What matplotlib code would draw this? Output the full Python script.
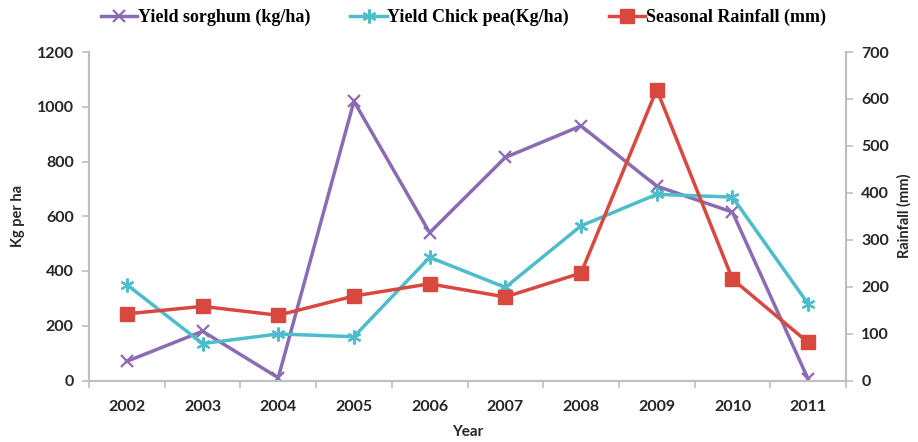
import matplotlib
matplotlib.use("Agg")
import matplotlib.pyplot as plt
import numpy as np

years = ["2002", "2003", "2004", "2005", "2006", "2007", "2008", "2009", "2010", "2011"]
sorghum = [70, 180, 10, 1020, 540, 815, 930, 710, 615, 5]
chickpea = [350, 135, 170, 160, 450, 340, 565, 680, 670, 280]
rainfall = [142, 158, 139, 180, 206, 178, 229, 620, 216, 81]

c_purple = "#8A6BB4"
c_cyan = "#4DBDCB"
c_red = "#D8483F"
spine_c = "#BFBFBF"
tick_font = "Lato"

fig = plt.figure(figsize=(9.18, 4.42), dpi=100)
ax = fig.add_axes([89/918, 1-380.5/442, (846-89)/918, (380.5-52)/442])
ax2 = ax.twinx()

x = np.arange(len(years))
l1, = ax.plot(x, sorghum, color=c_purple, lw=2.5, marker="x", ms=9, mew=1.6, label="Yield sorghum (kg/ha)")
l2, = ax.plot(x, chickpea, color=c_cyan, lw=2.5, marker=(6, 2, 0), ms=10, mew=1.6, label="Yield Chick pea(Kg/ha)")
l3, = ax2.plot(x, rainfall, color=c_red, lw=2.5, marker="s", ms=10, label="Seasonal Rainfall (mm)")

ax.set_xlim(-0.5, len(years)-0.5)
ax.set_ylim(0, 1200)
ax.set_yticks(np.arange(0, 1201, 200))
ax2.set_ylim(0, 700)
ax2.set_yticks(np.arange(0, 701, 100))

ax.set_xticks(x)
ax.set_xticklabels(years)
ax.set_xticks(np.arange(-0.5, len(years)), minor=True)
ax.tick_params(axis="x", which="major", length=0, pad=14)
ax.tick_params(axis="x", which="minor", length=5, color=spine_c, width=1.2)
ax.tick_params(axis="y", length=5, color=spine_c, width=1.2, pad=6)
ax2.tick_params(axis="y", length=5, color=spine_c, width=1.2, pad=6)

for a in (ax, ax2):
    a.spines["top"].set_visible(False)
    for s in ("left", "right", "bottom"):
        a.spines[s].set_color(spine_c)
        a.spines[s].set_linewidth(1.5)
    for lab in a.get_xticklabels() + a.get_yticklabels():
        lab.set_fontfamily(tick_font)
        lab.set_fontweight("bold")
        lab.set_fontsize(11.5)
        lab.set_color("#262626")

ax.set_xlabel("Year", fontfamily=tick_font, fontweight="bold", fontsize=11, color="#262626", labelpad=8)
ax.set_ylabel("Kg per ha", fontfamily=tick_font, fontweight="bold", fontsize=10.5, color="#262626", labelpad=8)
ax2.set_ylabel("Rainfall (mm)", fontfamily=tick_font, fontweight="bold", fontsize=10.5, color="#262626", labelpad=6)

fig.legend(handles=[l1, l2, l3], loc="center", bbox_to_anchor=(0.505, 0.96), ncol=3, frameon=False,
           prop={"family": "Liberation Serif", "size": 13, "weight": "bold"}, handlelength=2.0, handletextpad=0.05,
           columnspacing=2.2)

fig.savefig("out.png", dpi=100)
